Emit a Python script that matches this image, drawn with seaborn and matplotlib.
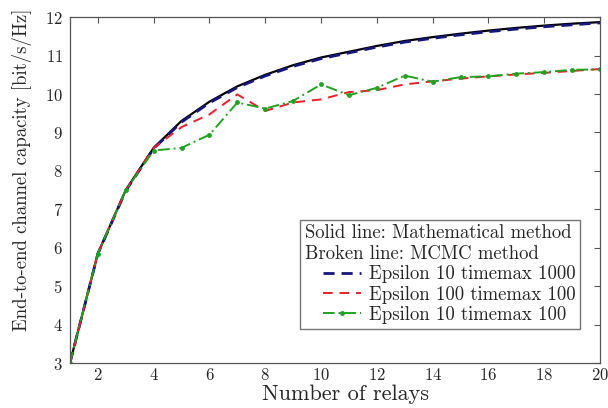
import numpy as np
import pandas as pd
import matplotlib
matplotlib.use("Agg")
import matplotlib.pyplot as plt
import seaborn as sns
from matplotlib.legend_handler import HandlerLine2D

# ---- data ----
relays = list(range(1, 21))
math_method = [3.0, 5.85, 7.5, 8.6, 9.3, 9.8, 10.2, 10.5, 10.75, 10.95,
               11.1, 11.25, 11.38, 11.48, 11.57, 11.65, 11.72, 11.78, 11.83, 11.87]
eps10_t1000 = [3.0, 5.84, 7.48, 8.58, 9.27, 9.77, 10.17, 10.47, 10.72, 10.92,
               11.07, 11.22, 11.35, 11.45, 11.54, 11.62, 11.69, 11.75, 11.8, 11.85]
eps100_t100 = [3.0, 5.85, 7.5, 8.6, 9.14, 9.47, 9.99, 9.56, 9.78, 9.86,
               10.05, 10.1, 10.25, 10.33, 10.4, 10.46, 10.51, 10.55, 10.6, 10.65]
eps10_t100 = [3.0, 5.85, 7.5, 8.53, 8.6, 8.94, 9.78, 9.62, 9.82, 10.25,
              9.97, 10.16, 10.48, 10.32, 10.44, 10.46, 10.53, 10.57, 10.63, 10.64]

labels = ["Epsilon 10 timemax 1000", "Epsilon 100 timemax 100", "Epsilon 10 timemax 100"]

df = pd.DataFrame({"relays": relays, "math": math_method,
                   "e10t1000": eps10_t1000, "e100t100": eps100_t100,
                   "e10t100": eps10_t100})

sns.set_style("white")
plt.rcParams["font.family"] = ["cmr10", "DejaVu Serif"]
plt.rcParams["axes.formatter.use_mathtext"] = True
plt.rcParams["mathtext.fontset"] = "cm"

fig = plt.figure(figsize=(6.08, 4.08), dpi=100)
ax = fig.add_axes([0.115, 0.11, 0.872, 0.848])

sns.lineplot(data=df, x="relays", y="math", ax=ax, color="black", lw=1.6)
sns.lineplot(data=df, x="relays", y="e10t1000", ax=ax, color="#16167a", lw=2.0,
             linestyle=(0, (4, 2.5)), label=labels[0])
sns.lineplot(data=df, x="relays", y="e100t100", ax=ax, color="#e8202a", lw=1.4,
             linestyle=(0, (5, 3.5)), label=labels[1])
sns.lineplot(data=df, x="relays", y="e10t100", ax=ax, color="#22a022", lw=1.4,
             linestyle=(0, (6, 2, 1, 2)), marker="o", markersize=3.5,
             markeredgewidth=0, label=labels[2])

ax.set_xlim(1, 20)
ax.set_ylim(3, 12)
ax.set_xticks(range(2, 21, 2))
ax.set_yticks(range(3, 13))
ax.tick_params(direction="in", top=True, right=True, length=4, width=0.8,
               color="#555555", labelsize=12, pad=5)
ax.tick_params(axis="x", pad=3)
for s in ax.spines.values():
    s.set_color("#555555")
    s.set_linewidth(0.9)

ax.set_xlabel("Number of relays", fontsize=16)
ax.xaxis.set_label_coords(0.52, -0.062)
ax.set_ylabel("End-to-end channel capacity [bit/s/Hz]", fontsize=13.5)
ax.yaxis.set_label_coords(-0.072, 0.56)

handles, labs = ax.get_legend_handles_labels()
leg = ax.legend(handles, labs,
                title="Solid line: Mathematical method\nBroken line: MCMC method",
                loc="lower right", bbox_to_anchor=(0.962, 0.1),
                fontsize=13.5, title_fontsize=13.5, alignment="left",
                frameon=True, fancybox=False, edgecolor="#555555",
                handlelength=3.0, handletextpad=0.4, borderpad=0.25,
                labelspacing=0.12, borderaxespad=0,
                handler_map={h: HandlerLine2D(xpad=0.95) for h in handles})
leg.get_frame().set_linewidth(1.0)
leg.get_title().set_multialignment("left")

fig.savefig("out.png", dpi=100)
